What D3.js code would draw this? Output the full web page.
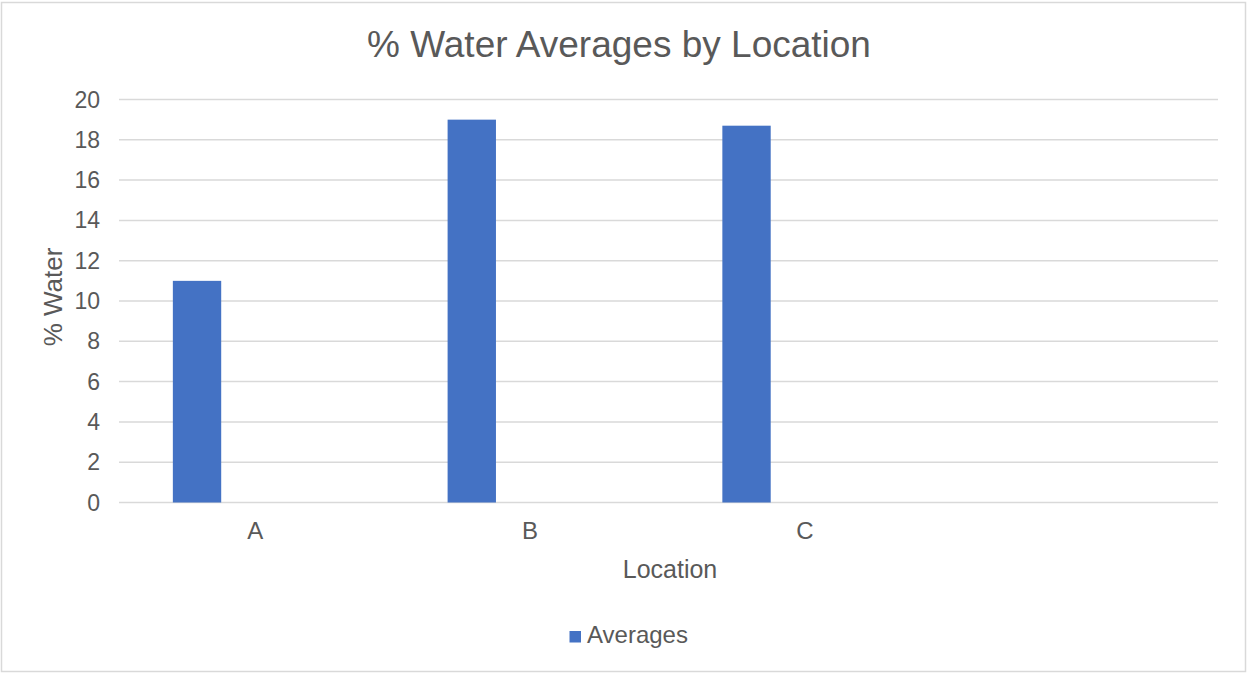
<!DOCTYPE html>
<html>
<head>
<meta charset="utf-8">
<script src="https://cdn.jsdelivr.net/npm/d3@7"></script>
<style>
  html, body { margin: 0; padding: 0; background: #ffffff; }
  svg { display: block; }
  text { font-family: "Liberation Sans", Arial, sans-serif; fill: #595959; }
</style>
</head>
<body>
<svg id="chart" width="1247" height="673"></svg>
<script>
// Chart data
const categories = ["A", "B", "C", ""];
const averages = [11.0, 19.0, 18.7, null];
const yTicks = [0, 2, 4, 6, 8, 10, 12, 14, 16, 18, 20];
const seriesName = "Averages";
const chartTitle = "% Water Averages by Location";
const xTitle = "Location";
const yTitle = "% Water";

const W = 1247, H = 673;
const plot = { left: 119, right: 1218, top: 99.5, bottom: 502.5 };
const barColor = "#4472C4";
const gridColor = "#d9d9d9";

const svg = d3.select("#chart");

// outer chart frame
svg.append("rect")
  .attr("x", 1.5).attr("y", 2.5)
  .attr("width", W - 3).attr("height", H - 4)
  .attr("fill", "#ffffff")
  .attr("stroke", gridColor).attr("stroke-width", 1.5);

const x = d3.scaleBand().domain(categories).range([plot.left, plot.right]).padding(0);
const y = d3.scaleLinear().domain([0, 20]).range([plot.bottom, plot.top]);

// bar sits in the left part of each category slot
const barStart = 0.196, barEnd = 0.372;

// horizontal gridlines
svg.append("g").selectAll("line").data(yTicks).join("line")
  .attr("x1", plot.left).attr("x2", plot.right)
  .attr("y1", d => y(d)).attr("y2", d => y(d))
  .attr("stroke", gridColor).attr("stroke-width", 1.5);

// y tick labels
svg.append("g").selectAll("text").data(yTicks).join("text")
  .attr("x", 100).attr("y", d => y(d))
  .attr("dy", "0.35em")
  .attr("text-anchor", "end")
  .attr("font-size", 23)
  .text(d => d);

// bars
const rows = categories.map((c, i) => ({ cat: c, val: averages[i] })).filter(d => d.val != null);
svg.append("g").selectAll("rect").data(rows).join("rect")
  .attr("x", d => x(d.cat) + x.bandwidth() * barStart)
  .attr("width", x.bandwidth() * (barEnd - barStart))
  .attr("y", d => y(d.val))
  .attr("height", d => y(0) - y(d.val))
  .attr("fill", barColor);

// category labels
svg.append("g").selectAll("text").data(categories.filter(c => c !== "")).join("text")
  .attr("x", d => x(d) + x.bandwidth() / 2 - 1)
  .attr("y", 539)
  .attr("text-anchor", "middle")
  .attr("font-size", 24)
  .text(d => d);

// title
svg.append("text")
  .attr("x", 619).attr("y", 57)
  .attr("text-anchor", "middle")
  .attr("font-size", 37)
  .text(chartTitle);

// axis titles
svg.append("text")
  .attr("x", 670).attr("y", 578)
  .attr("text-anchor", "middle")
  .attr("font-size", 25)
  .text(xTitle);

svg.append("text")
  .attr("transform", "translate(62,297) rotate(-90)")
  .attr("text-anchor", "middle")
  .attr("font-size", 26)
  .text(yTitle);

// legend
const legend = svg.append("g");
legend.append("rect")
  .attr("x", 569.5).attr("y", 631)
  .attr("width", 11.5).attr("height", 11.5)
  .attr("fill", barColor);
legend.append("text")
  .attr("x", 587).attr("y", 643)
  .attr("font-size", 24)
  .text(seriesName);
</script>
</body>
</html>
